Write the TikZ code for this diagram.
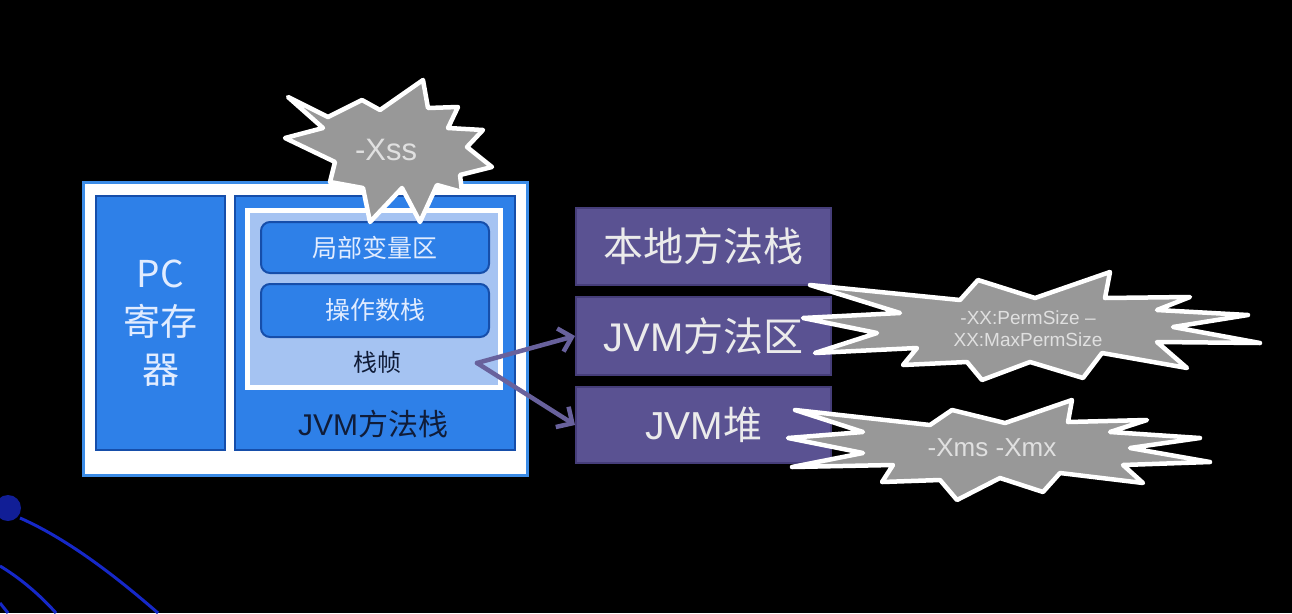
\documentclass[tikz,border=0pt]{standalone}
\usepackage{fontspec}
\setmainfont{Liberation Sans}
\newfontfamily\cjk{Noto Sans CJK SC}
\usetikzlibrary{arrows.meta}
\definecolor{bluebox}{RGB}{46,128,232}
\definecolor{blueedge}{RGB}{22,78,170}
\definecolor{outeredge}{RGB}{60,140,230}
\definecolor{framefill}{RGB}{165,195,242}
\definecolor{purplebox}{RGB}{90,82,146}
\definecolor{purpleedge}{RGB}{70,62,122}
\definecolor{arrowcol}{RGB}{104,97,156}
\definecolor{burstfill}{RGB}{152,152,152}
\definecolor{bluetext}{RGB}{225,236,255}
\definecolor{darktext}{RGB}{16,28,56}
\definecolor{orbit}{RGB}{22,40,200}
\tikzset{
  bluebx/.style={fill=bluebox,draw=blueedge,line width=2pt,inner sep=0pt},
  roundbx/.style={fill=bluebox,draw=blueedge,line width=2pt,rounded corners=9pt,inner sep=0pt,
     text=bluetext,font=\cjk\fontsize{25}{30}\selectfont},
  purplebx/.style={fill=purplebox,draw=purpleedge,line width=2pt,inner sep=0pt,
     minimum width=255pt,text=white!92!black},
  burst/.style={fill=burstfill,draw=white,line width=4.5pt,line join=round},
  bursttext/.style={text=white!88!black,inner sep=0pt,align=center},
  conn/.style={draw=arrowcol,line width=4.5pt,line cap=round,line join=round,
     -{Straight Barb[length=12pt,width=24pt,line width=4.5pt]}},
}
\begin{document}
\begin{tikzpicture}[x=1pt,y=-1pt]
\fill[black] (0,0) rectangle (1292,613);
\useasboundingbox (0,0) rectangle (1292,613);
% orbit decoration bottom-left
\draw[orbit,line width=3pt] (20,518) .. controls (70,540) and (120,580) .. (158,613);
\draw[orbit,line width=3pt] (0,566) .. controls (20,578) and (40,595) .. (56,613);
\draw[orbit,line width=3pt] (0,603) -- (8,613);
\fill[orbit!75!black] (8,508) circle (13);
% left group
\node[fill=white,draw=outeredge,line width=3pt,minimum width=444pt,minimum height=293pt,inner sep=0pt] (outer) at (305,328.5) {};
\node[bluebx,minimum width=129pt,minimum height=254pt,text=bluetext,align=center,
  font=\cjk\fontsize{37}{48}\selectfont] (pc) at (160.5,323) {PC\\寄存\\器};
\node[bluebx,minimum width=280pt,minimum height=254pt] (jvmstack) at (375,323) {};
\node[fill=framefill,draw=white,line width=5pt,minimum width=253pt,minimum height=177pt,inner sep=0pt] (frame) at (374,299) {};
\node[roundbx,minimum width=228pt,minimum height=51pt] (local) at (375,247.5) {局部变量区};
\node[roundbx,minimum width=228pt,minimum height=53pt] (operand) at (375,310.5) {操作数栈};
\node[text=darktext,font=\cjk\fontsize{24}{28}\selectfont,inner sep=0pt] (frametext) at (377,362) {栈帧};
\node[text=darktext,font=\fontsize{30}{34}\selectfont,inner sep=0pt] (stacktext) at (373,424) {JVM{\cjk 方法栈}};
% right group
\node[purplebx,minimum height=77pt,font=\cjk\fontsize{40}{44}\selectfont] (native) at (703.5,246.5) {本地方法栈};
\node[purplebx,minimum height=78pt,font=\fontsize{40}{44}\selectfont] (method) at (703.5,336) {JVM{\cjk 方法区}};
\node[purplebx,minimum height=76pt,font=\fontsize{39}{44}\selectfont] (heap) at (703.5,425) {JVM{\cjk 堆}};
% connectors
\coordinate (src) at (477,363);
\draw[conn] (src) -- (method.west);
\draw[conn] (src) -- (heap.west);
% -Xss burst
\draw[burst] (288,97) -- (328,117) -- (362,100) -- (380,110) -- (423,80) -- (428,108)
  -- (458,107) -- (448,128) -- (483,130) -- (467,147) -- (492,167) -- (460,175)
  -- (462,192) -- (437,185) -- (420,222) -- (402,188) -- (370,222) -- (363,188)
  -- (330,182) -- (335,162) -- (285,138) -- (323,128) -- cycle;
\node[bursttext,font=\fontsize{31}{34}\selectfont] (xss) at (386,150) {-Xss};
% PermSize burst
\draw[burst] (810,285) -- (960,300) -- (978,280) -- (1035,298) -- (1110,272)
  -- (1105,298) -- (1190,297) -- (1157,310) -- (1248,315) -- (1173,327)
  -- (1260,343) -- (1157,342) -- (1187,368) -- (1102,353) -- (1083,378)
  -- (1030,362) -- (982,380) -- (967,362) -- (903,365) -- (917,348)
  -- (815,353) -- (877,333) -- (803,318) -- (900,313) -- cycle;
\node[bursttext,font=\fontsize{19}{22}\selectfont] (perm) at (1028,329) {-XX:PermSize --\\XX:MaxPermSize};
% Xms burst
\draw[burst] (795,410) -- (930,425) -- (952,410) -- (1005,423) -- (1072,400)
  -- (1068,422) -- (1147,420) -- (1110,432) -- (1200,438) -- (1130,448)
  -- (1210,462) -- (1123,465) -- (1143,483) -- (1060,473) -- (1043,492)
  -- (1000,478) -- (957,500) -- (940,480) -- (882,482) -- (893,465)
  -- (792,467) -- (863,453) -- (788,438) -- (863,432) -- cycle;
\node[bursttext,font=\fontsize{26}{30}\selectfont] (xms) at (992,448) {-Xms -Xmx};
\end{tikzpicture}
\end{document}
